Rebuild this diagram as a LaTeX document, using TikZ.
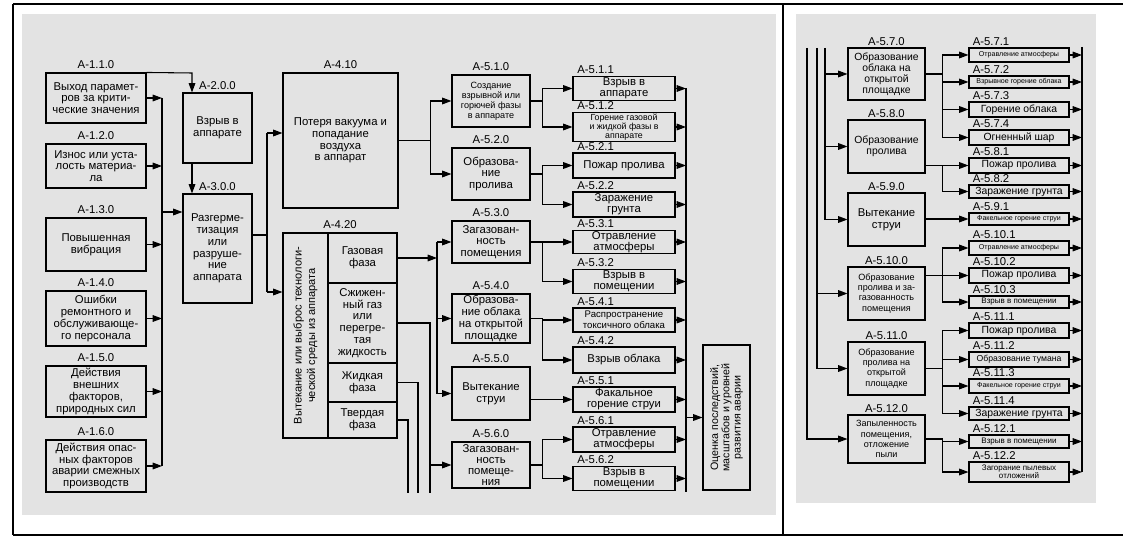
\documentclass[tikz,border=0pt]{standalone}
\usepackage{fontspec}
\setmainfont{Liberation Sans}
\usepackage{tikz}
\usetikzlibrary{positioning,shapes,fit,arrows.meta}
\tikzset{
        >={Triangle[length=7pt,width=5pt]}, % filled arrow heads
        box/.style={draw, line width=0.8pt, align=center, inner sep=0.8pt, font=\fontsize{8.5}{8.8}\selectfont},
        sz/.style 2 args={minimum width=#1*0.75pt, minimum height=#2*0.75pt}, % sizes in pixels
        tag/.style={inner sep=0pt, font=\fontsize{8.5}{9}\selectfont},
        wire/.style={line width=0.8pt},
        small/.style={font=\fontsize{6.8}{7.6}\selectfont},
        mid/.style={font=\fontsize{7.8}{8.2}\selectfont},
        tiny/.style={font=\fontsize{5.3}{5.8}\selectfont},
}

\begin{document}
\begin{tikzpicture}[x=0.75pt,y=-0.75pt]
\useasboundingbox (0,0) rectangle (1123,538);

% scanned pages and table frame
\fill[black!11] (22,14) rectangle (776,515);
\fill[black!11] (796,14) rectangle (1096,503);
\draw[line width=1pt] (13,4) -- (1123,4);
\draw[line width=1pt] (13,535) -- (1123,535);
\draw[line width=1pt] (13,4) -- (13,535);
\draw[line width=1pt] (783,4) -- (783,535);

% causes
\node[box, sz={100}{50}] (a110) at (96,98) {Выход парамет-\\ров за крити-\\ческие значения};
\node[box, sz={100}{44}] (a120) at (96,166) {Износ или уста-\\лость материа-\\ла};
\node[box, sz={100}{53}] (a130) at (96,244.5) {Повышенная\\вибрация};
\node[box, sz={100}{55}] (a140) at (96,318.5) {Ошибки\\ремонтного и\\обслуживающе-\\го персонала};
\node[box, sz={100}{51}] (a150) at (96,391.5) {Действия\\внешних\\факторов,\\природных сил};
\node[box, sz={100}{52}] (a160) at (96,466) {Действия опас-\\ных факторов\\аварии смежных\\производств};
\node[tag, above=3pt of a110] (l110) {A-1.1.0};
\node[tag, above=3pt of a120] (l120) {A-1.2.0};
\node[tag, above=3pt of a130] (l130) {A-1.3.0};
\node[tag, above=3pt of a140] (l140) {A-1.4.0};
\node[tag, above=3pt of a150] (l150) {A-1.5.0};
\node[tag, above=3pt of a160] (l160) {A-1.6.0};

\node[box, sz={69}{70}] (a200) at (217.5,128) {Взрыв в\\аппарате};
\node[box, sz={69}{109}] (a300) at (217.5,248.5) {Разгерме-\\тизация\\или\\разруше-\\ние\\аппарата};
\node[tag, above=2pt of a200] (l200) {A-2.0.0};
\node[tag, above=2pt of a300] (l300) {A-3.0.0};

\node[box, sz={115}{135}] (a410) at (340.5,140.5) {Потеря вакуума и\\попадание\\воздуха\\в аппарат};
\node[tag, above=3pt of a410] (l410) {A-4.10};

% outflow box with its four phases
\node[box, sz={114}{205}] (a420) at (340,335.5) {};
\node[tag, above=3pt of a420] (l420) {A-4.20};
\node[rotate=90, align=center, font=\fontsize{8.3}{10}\selectfont] (flow) at (305.5,335.5) {Вытекание или выброс технологи-\\ческой среды из аппарата};
\node[box, sz={69}{50}] (gas) at (362.5,258) {Газовая\\фаза};
\node[box, sz={69}{80}] (lgas) at (362.5,323) {Сжижен-\\ный газ\\или\\перегре-\\тая\\жидкость};
\node[box, sz={69}{39}] (liq) at (362.5,382.5) {Жидкая\\фаза};
\node[box, sz={69}{36}] (sol) at (362.5,420) {Твердая\\фаза};

% scenarios
\node[box, small, sz={78}{52}] (a510) at (491,101) {Создание\\взрывной или\\горючей фазы\\в аппарате};
\node[box, sz={78}{52}] (a520) at (491,174) {Образова-\\ние\\пролива};
\node[box, sz={78}{42}] (a530) at (491,242) {Загазован-\\ность\\помещения};
\node[box, sz={78}{49}] (a540) at (491,318.5) {Образова-\\ние облака\\на открытой\\площадке};
\node[box, sz={78}{53}] (a550) at (491,393.5) {Вытекание\\струи};
\node[box, sz={78}{46}, font=\fontsize{8.5}{8.3}\selectfont] (a560) at (491,465) {Загазован-\\ность\\помеще-\\ния};
\node[tag, above=3pt of a510] (l510) {A-5.1.0};
\node[tag, above=3pt of a520] (l520) {A-5.2.0};
\node[tag, above=3pt of a530] (l530) {A-5.3.0};
\node[tag, above=3pt of a540] (l540) {A-5.4.0};
\node[tag, above=3pt of a550] (l550) {A-5.5.0};
\node[tag, above=3pt of a560] (l560) {A-5.6.0};

% outcomes
\node[box, sz={102}{23}, font=\fontsize{8.5}{8.3}\selectfont] (a511) at (624,88.5) {Взрыв в\\аппарате};
\node[box, small, sz={102}{26}, font=\fontsize{6.6}{6.9}\selectfont] (a512) at (624,127) {Горение газовой\\и жидкой фазы в\\аппарате};
\node[box, sz={102}{25}] (a521) at (624,165.5) {Пожар пролива};
\node[box, sz={102}{25}, font=\fontsize{8.5}{8.3}\selectfont] (a522) at (624,204.5) {Заражение\\грунта};
\node[box, sz={102}{22}, font=\fontsize{8.5}{8.3}\selectfont] (a531) at (624,242) {Отравление\\атмосферы};
\node[box, sz={102}{23}, font=\fontsize{8.5}{8.3}\selectfont] (a532) at (624,281.5) {Взрыв в\\помещении};
\node[box, sz={102}{24}, font=\fontsize{7.2}{8}\selectfont] (a541) at (624,320) {Распространение\\токсичного облака};
\node[box, sz={102}{26}] (a542) at (624,360) {Взрыв облака};
\node[box, sz={102}{25}, font=\fontsize{8.5}{8.3}\selectfont] (a551) at (624,399.5) {Факальное\\горение струи};
\node[box, sz={102}{25}, font=\fontsize{8.5}{8.3}\selectfont] (a561) at (624,439.5) {Отравление\\атмосферы};
\node[box, sz={102}{23}, font=\fontsize{8.5}{8.3}\selectfont] (a562) at (624,478.5) {Взрыв в\\помещении};
\node[tag, above right=1.5pt and 3.5pt of a511.north west] (l511) {A-5.1.1};
\node[tag, above right=1.5pt and 3.5pt of a512.north west] (l512) {A-5.1.2};
\node[tag, above right=1.5pt and 3.5pt of a521.north west] (l521) {A-5.2.1};
\node[tag, above right=1.5pt and 3.5pt of a522.north west] (l522) {A-5.2.2};
\node[tag, above right=1.5pt and 3.5pt of a531.north west] (l531) {A-5.3.1};
\node[tag, above right=1.5pt and 3.5pt of a532.north west] (l532) {A-5.3.2};
\node[tag, above right=1.5pt and 3.5pt of a541.north west] (l541) {A-5.4.1};
\node[tag, above right=1.5pt and 3.5pt of a542.north west] (l542) {A-5.4.2};
\node[tag, above right=1.5pt and 3.5pt of a551.north west] (l551) {A-5.5.1};
\node[tag, above right=1.5pt and 3.5pt of a561.north west] (l561) {A-5.6.1};
\node[tag, above right=1.5pt and 3.5pt of a562.north west] (l562) {A-5.6.2};

\node[box, rotate=90, sz={145}{47}, font=\fontsize{8}{8.4}\selectfont] (fin) at (726.5,417.5) {Оценка последствий,\\масштабов и уровней\\развития аварии};

% right page
\node[box, mid, sz={77}{52}] (a570) at (886.5,74) {Образование\\облака на\\открытой\\площадке};
\node[box, mid, sz={77}{53}] (a580) at (886.5,146.5) {Образование\\пролива};
\node[box, sz={77}{53}] (a590) at (886.5,219.5) {Вытекание\\струи};
\node[box, small, sz={77}{53}] (a5100) at (886.5,293.5) {Образование\\пролива и за-\\газованность\\помещения};
\node[box, small, sz={77}{53}] (a5110) at (886.5,368.5) {Образование\\пролива на\\открытой\\площадке};
\node[box, small, sz={77}{48}] (a5120) at (886.5,439) {Запыленность\\помещения,\\отложение\\пыли};
\node[tag, above=1.5pt of a570] (l570) {A-5.7.0};
\node[tag, above=1.5pt of a580] (l580) {A-5.8.0};
\node[tag, above=1.5pt of a590] (l590) {A-5.9.0};
\node[tag, above=1.5pt of a5100] (l5100) {A-5.10.0};
\node[tag, above=1.5pt of a5110] (l5110) {A-5.11.0};
\node[tag, above=1.5pt of a5120] (l5120) {A-5.12.0};

\node[box, tiny, sz={100}{14}] (a571) at (1019,55) {Отравление атмосферы};
\node[box, tiny, sz={100}{12}] (a572) at (1019,82) {Взрывное горение облака};
\node[box, mid, sz={100}{15}] (a573) at (1019,109.5) {Горение облака};
\node[box, mid, sz={100}{15}] (a574) at (1019,137.5) {Огненный шар};
\node[box, mid, sz={100}{15}] (a581) at (1019,165.5) {Пожар пролива};
\node[box, mid, sz={100}{13}] (a582) at (1019,191.5) {Заражение грунта};
\node[box, tiny, sz={100}{12}] (a591) at (1019,219) {Факельное горение струи};
\node[box, tiny, sz={100}{14}] (a5101) at (1019,248) {Отравление атмосферы};
\node[box, mid, sz={100}{15}] (a5102) at (1019,275.5) {Пожар пролива};
\node[box, tiny, sz={100}{12}, font=\fontsize{6}{6.5}\selectfont] (a5103) at (1019,302) {Взрыв в помещении};
\node[box, mid, sz={100}{15}] (a5111) at (1019,330.5) {Пожар пролива};
\node[box, sz={100}{15}, font=\fontsize{6.5}{7}\selectfont] (a5112) at (1019,359.5) {Образование тумана};
\node[box, tiny, sz={100}{14}] (a5113) at (1019,386) {Факельное горение струи};
\node[box, mid, sz={100}{13}] (a5114) at (1019,413.5) {Заражение грунта};
\node[box, sz={100}{13}, font=\fontsize{6}{6.5}\selectfont] (a5121) at (1019,441.5) {Взрыв в помещении};
\node[box, sz={100}{20}, font=\fontsize{6}{6.3}\selectfont] (a5122) at (1019,472) {Загорание пылевых\\отложений};
\node[tag, above right=1pt and 3pt of a571.north west] (l571) {A-5.7.1};
\node[tag, above right=1pt and 3pt of a572.north west] (l572) {A-5.7.2};
\node[tag, above right=1pt and 3pt of a573.north west] (l573) {A-5.7.3};
\node[tag, above right=1pt and 3pt of a574.north west] (l574) {A-5.7.4};
\node[tag, above right=1pt and 3pt of a581.north west] (l581) {A-5.8.1};
\node[tag, above right=1pt and 3pt of a582.north west] (l582) {A-5.8.2};
\node[tag, above right=1pt and 3pt of a591.north west] (l591) {A-5.9.1};
\node[tag, above right=1pt and 3pt of a5101.north west] (l5101) {A-5.10.1};
\node[tag, above right=1pt and 3pt of a5102.north west] (l5102) {A-5.10.2};
\node[tag, above right=1pt and 3pt of a5103.north west] (l5103) {A-5.10.3};
\node[tag, above right=1pt and 3pt of a5111.north west] (l5111) {A-5.11.1};
\node[tag, above right=1pt and 3pt of a5112.north west] (l5112) {A-5.11.2};
\node[tag, above right=1pt and 3pt of a5113.north west] (l5113) {A-5.11.3};
\node[tag, above right=1pt and 3pt of a5114.north west] (l5114) {A-5.11.4};
\node[tag, above right=1pt and 3pt of a5121.north west] (l5121) {A-5.12.1};
\node[tag, above right=1pt and 3pt of a5122.north west] (l5122) {A-5.12.2};

% connectors, left page
\coordinate (bus1) at (162,0);
\coordinate (j1) at (192,73);
\coordinate (j2) at (162,212);
\coordinate (j3) at (267,235);
\coordinate (j3a) at (267,133);
\coordinate (j3b) at (267,292);
\draw[wire,->] (a110.east) -- (a110.east -| bus1);
\draw[wire,->] (a120.east) -- (a120.east -| bus1);
\draw[wire,->] (a130.east) -- (a130.east -| bus1);
\draw[wire,->] (a140.east) -- (a140.east -| bus1);
\draw[wire,->] (a150.east) -- (a150.east -| bus1);
\draw[wire,->] (a160.east) -- (a160.east -| bus1);
\draw[wire] (a110.east -| bus1) -- (a160.east -| bus1);
\draw[wire,->] (j2) -- (j2 -| a300.west);
\draw[wire,->] (a110.north east) -- (j1) -- (j1 |- a200.north);
\draw[wire,->] (j1 |- a200.south) -- (j1 |- a300.north);
\draw[wire] (a300.east |- j3) -- (j3);
\draw[wire] (j3a) -- (j3b);
\draw[wire,->] (j3a) -- (j3a -| a410.west);
\draw[wire,->] (j3b) -- (j3b -| a420.west);

\draw[wire,->] (a410.east) -- ++(32,0) |- (a510.west);
\draw[wire,->] (a410.east) -- ++(32,0) |- (a520.west);

\coordinate (k1) at (437,0);
\coordinate (k2) at (430,493);
\coordinate (k3) at (418,493);
\coordinate (k4) at (408,493);
\draw[wire,->] (gas.east) -- (gas.east -| k1);
\draw[wire] (k1 |- a530.west) -- (k1 |- a550.west);
\draw[wire,->] (k1 |- a530.west) -- (a530.west);
\draw[wire,->] (k1 |- a540.west) -- (a540.west);
\draw[wire,->] (k1 |- a550.west) -- (a550.west);
\draw[wire] (lgas.east) -| (k2);
\draw[wire,->] (k2 |- a560.west) -- (a560.west);
\draw[wire] (liq.east) -| (k3);
\draw[wire] (sol.east) -| (k4);

\draw[wire,->] (a510.east) -- ++(12,0) |- (a511.west);
\draw[wire,->] (a510.east) -- ++(12,0) |- (a512.west);
\draw[wire,->] (a520.east) -- ++(12,0) |- (a521.west);
\draw[wire,->] (a520.east) -- ++(12,0) |- (a522.west);
\draw[wire,->] (a530.east) -- ++(12,0) |- (a531.west);
\draw[wire,->] (a530.east) -- ++(12,0) |- (a532.west);
\draw[wire,->] (a540.east) -- ++(12,0) |- (a541.west);
\draw[wire,->] (a540.east) -- ++(12,0) |- (a542.west);
\draw[wire,->] (a550.east |- a551.west) -- (a551.west);
\draw[wire,->] (a560.east) -- ++(12,0) |- (a561.west);
\draw[wire,->] (a560.east) -- ++(12,0) |- (a562.west);

\coordinate (rb) at (686,0);
\coordinate (rbend) at (686,492);
\draw[wire,->] (a511.east) -- (a511.east -| rb);
\draw[wire,->] (a512.east) -- (a512.east -| rb);
\draw[wire,->] (a521.east) -- (a521.east -| rb);
\draw[wire,->] (a522.east) -- (a522.east -| rb);
\draw[wire,->] (a531.east) -- (a531.east -| rb);
\draw[wire,->] (a532.east) -- (a532.east -| rb);
\draw[wire,->] (a541.east) -- (a541.east -| rb);
\draw[wire,->] (a542.east) -- (a542.east -| rb);
\draw[wire,->] (a551.east) -- (a551.east -| rb);
\draw[wire,->] (a561.east) -- (a561.east -| rb);
\draw[wire,->] (a562.east) -- (a562.east -| rb);
\draw[wire] (rb |- a511.east) -- (rbend);
\draw[wire,->] (rb |- fin.north) -- (fin.north);

% connectors, right page
\coordinate (t1) at (807,48);
\coordinate (t2) at (817,48);
\coordinate (t3) at (825,48);
\draw[wire,->] (t3) |- (a590.west);
\draw[wire,->] (t3 |- a570.west) -- (a570.west);
\draw[wire,->] (t3 |- a580.west) -- (a580.west);
\draw[wire,->] (t2) |- (a5110.west);
\draw[wire,->] (t2 |- a5100.west) -- (a5100.west);
\draw[wire,->] (t1) |- (a5120.west);

\draw[wire,->] (a570.east) -- ++(17,0) |- (a571.west);
\draw[wire,->] (a570.east) -- ++(17,0) |- (a572.west);
\draw[wire,->] (a570.east) -- ++(17,0) |- (a573.west);
\draw[wire,->] (a570.east) -- ++(17,0) |- (a574.west);
\draw[wire,->] (a580.east |- a581.west) -- (a581.west);
\draw[wire,->] (a580.east |- a581.west) -- ++(17,0) |- (a582.west);
\draw[wire,->] (a590.east |- a591.west) -- (a591.west);
\draw[wire,->] (a5100.east |- a5102.west) -- ++(17,0) |- (a5101.west);
\draw[wire,->] (a5100.east |- a5102.west) -- (a5102.west);
\draw[wire,->] (a5100.east |- a5102.west) -- ++(17,0) |- (a5103.west);
\draw[wire,->] (a5110.east) -- ++(17,0) |- (a5111.west);
\draw[wire,->] (a5110.east) -- ++(17,0) |- (a5112.west);
\draw[wire,->] (a5110.east) -- ++(17,0) |- (a5113.west);
\draw[wire,->] (a5110.east) -- ++(17,0) |- (a5114.west);
\draw[wire,->] (a5120.east) -- ++(17,0) |- (a5121.west);
\draw[wire,->] (a5120.east) -- ++(17,0) |- (a5122.west);

\coordinate (rb2) at (1082,47);
\draw[wire,->] (a571.east) -- (a571.east -| rb2);
\draw[wire,->] (a572.east) -- (a572.east -| rb2);
\draw[wire,->] (a573.east) -- (a573.east -| rb2);
\draw[wire,->] (a574.east) -- (a574.east -| rb2);
\draw[wire,->] (a581.east) -- (a581.east -| rb2);
\draw[wire,->] (a582.east) -- (a582.east -| rb2);
\draw[wire,->] (a591.east) -- (a591.east -| rb2);
\draw[wire,->] (a5101.east) -- (a5101.east -| rb2);
\draw[wire,->] (a5102.east) -- (a5102.east -| rb2);
\draw[wire,->] (a5103.east) -- (a5103.east -| rb2);
\draw[wire,->] (a5111.east) -- (a5111.east -| rb2);
\draw[wire,->] (a5112.east) -- (a5112.east -| rb2);
\draw[wire,->] (a5113.east) -- (a5113.east -| rb2);
\draw[wire,->] (a5114.east) -- (a5114.east -| rb2);
\draw[wire,->] (a5121.east) -- (a5121.east -| rb2);
\draw[wire,->] (a5122.east) -- (a5122.east -| rb2);
\draw[wire] (rb2) -- (rb2 |- a5122.east);

\end{tikzpicture}
\end{document}
